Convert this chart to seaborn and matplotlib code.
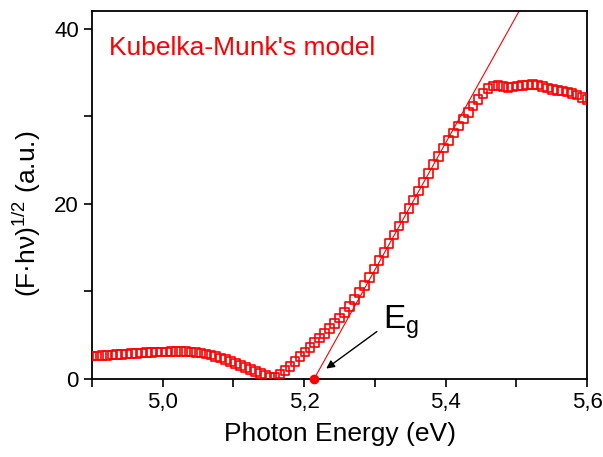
import numpy as np
import pandas as pd
import matplotlib
matplotlib.use("Agg")
import matplotlib.pyplot as plt
import seaborn as sns
from matplotlib.ticker import MultipleLocator, FuncFormatter

# photon energy grid (eV), one reading every 7 meV
energy = np.round(4.900 + 0.007 * np.arange(101), 3)

# (F*hv)^1/2
km_values = [
    2.60, 2.63, 2.66, 2.70, 2.73, 2.77, 2.81, 2.85, 2.89, 2.93,
    2.97, 3.00, 3.03, 3.06, 3.08, 3.10, 3.11, 3.12, 3.12, 3.11,
    3.08, 3.03, 2.96, 2.86, 2.73, 2.58, 2.41, 2.22, 2.02, 1.80,
    1.57, 1.33, 1.08, 0.84, 0.60, 0.40, 0.24, 0.25, 0.55, 0.98,
    1.45, 1.98, 2.55, 3.10, 3.62, 4.15, 4.68, 5.22, 5.78, 6.35,
    6.95, 7.60, 8.30, 9.05, 9.85, 10.70, 11.60, 12.55, 13.50, 14.45,
    15.45, 16.45, 17.45, 18.45, 19.45, 20.45, 21.45, 22.45, 23.45, 24.45,
    25.40, 26.35, 27.25, 28.10, 28.90, 29.65, 30.40, 31.15, 31.90, 32.60,
    33.15, 33.45, 33.50, 33.40, 33.30, 33.35, 33.45, 33.50, 33.55, 33.60,
    33.55, 33.40, 33.20, 33.05, 32.95, 32.85, 32.75, 32.60, 32.40, 32.10,
    31.90,
]

# linear fit of the absorption edge and its intercept
eg = 5.214
fit_x = [eg, 5.60]
fit_slope = 144.8

df = pd.DataFrame({"energy": energy, "km": km_values})
fit_df = pd.DataFrame({"energy": fit_x,
                       "km": [fit_slope * (x - eg) for x in fit_x]})

sns.set_style("ticks")
plt.rcParams["font.family"] = ["Liberation Sans", "DejaVu Sans"]
plt.rcParams["mathtext.fontset"] = "custom"
plt.rcParams["mathtext.rm"] = "Liberation Sans"
plt.rcParams["mathtext.it"] = "Liberation Sans:italic"
plt.rcParams["text.color"] = "black"
plt.rcParams["axes.labelcolor"] = "black"
plt.rcParams["xtick.color"] = "black"
plt.rcParams["ytick.color"] = "black"

fig = plt.figure(figsize=(6.03, 4.57), dpi=100)
ax = fig.add_axes([0.1526, 0.1707, 0.8209, 0.8052])

sns.lineplot(data=fit_df, x="energy", y="km", ax=ax, color="red", lw=0.8)
sns.scatterplot(data=df, x="energy", y="km", ax=ax, marker="s", s=38,
                facecolor="none", edgecolor="red", linewidth=1.2, zorder=3)
ax.plot([eg], [0], "o", color="red", ms=6, clip_on=False, zorder=5)

ax.set_xlim(4.9, 5.6)
ax.set_ylim(0, 42)
ax.xaxis.set_major_locator(MultipleLocator(0.2))
ax.xaxis.set_minor_locator(MultipleLocator(0.1))
ax.yaxis.set_major_locator(MultipleLocator(20))
ax.yaxis.set_minor_locator(MultipleLocator(10))
ax.xaxis.set_major_formatter(FuncFormatter(lambda v, p: f"{v:.1f}".replace(".", ",")))
ax.tick_params(which="major", length=6, width=1.2, labelsize=16, direction="out")
ax.tick_params(which="minor", length=6, width=1.2, direction="out")
for s in ax.spines.values():
    s.set_linewidth(1.3)
    s.set_color("black")

ax.set_xlabel("Photon Energy (eV)", fontsize=19, labelpad=6)
ax.set_ylabel("(F·hν)$^{1/2}$ (a.u.)", fontsize=19)
ax.yaxis.set_label_coords(-0.10, 0.45)

ax.text(0.035, 0.9, "Kubelka-Munk's model", transform=ax.transAxes,
        color="red", fontsize=19, va="center")
ax.annotate("", xy=(5.228, 1.0), xytext=(5.306, 5.6),
            arrowprops=dict(arrowstyle="-|>", color="black", lw=1.0,
                            mutation_scale=12))
ax.text(5.312, 5.7, "E$_\\mathrm{g}$", fontsize=24, va="baseline")

fig.savefig("out.png", dpi=100)
